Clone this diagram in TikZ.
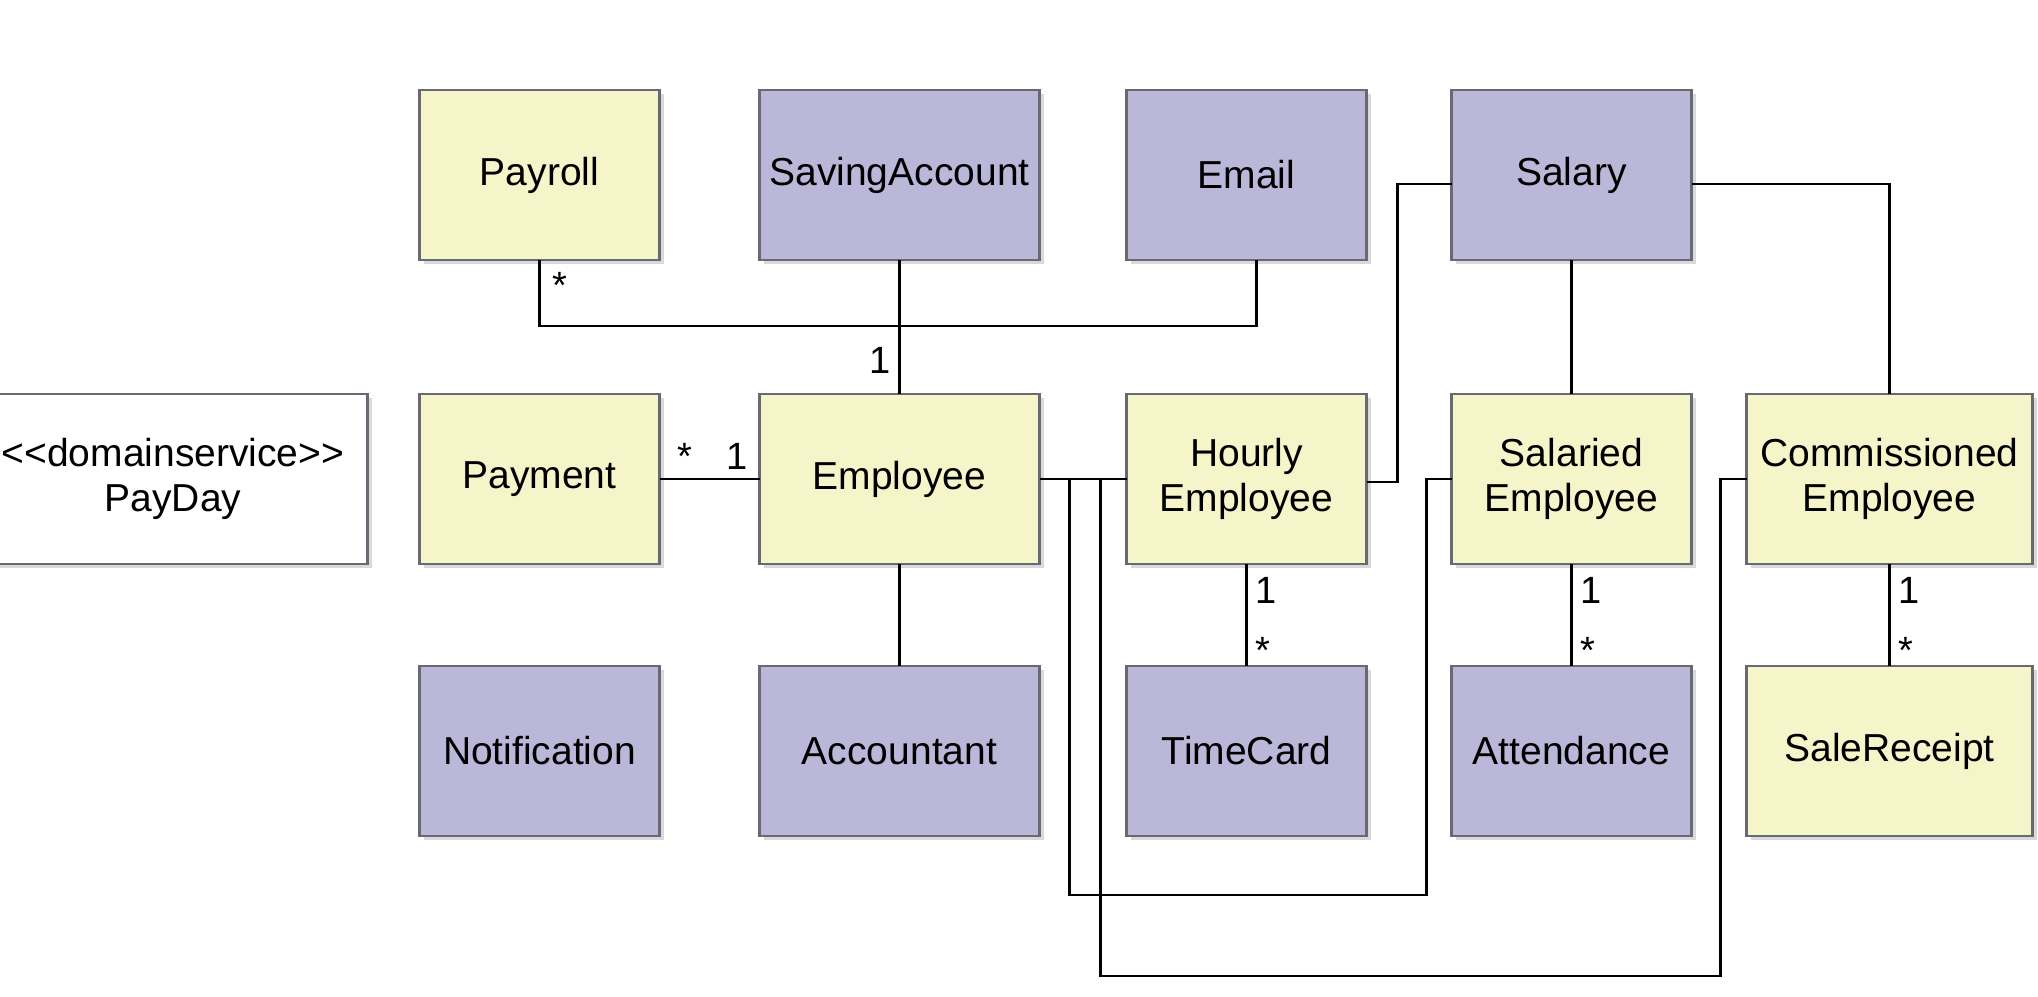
\documentclass[tikz,border=0pt]{standalone}
\usepackage{fontspec}
\usepackage{tikz}
\usetikzlibrary{positioning,shadows}
\newfontfamily\umlfont{Liberation Sans}
\definecolor{entyellow}{RGB}{245,245,201}
\definecolor{valpurple}{RGB}{186,183,216}
\definecolor{clsborder}{RGB}{105,105,115}

\begin{document}
\begin{tikzpicture}[x=1pt,y=1pt,node distance=51pt and 43pt]
\tikzstyle{cls}=[draw=clsborder,line width=1.2pt,minimum width=120pt,minimum height=85pt,inner sep=0pt,outer sep=0pt,align=center,font=\umlfont\fontsize{19.5}{22.75}\selectfont,drop shadow={shadow xshift=2pt,shadow yshift=-2pt,opacity=0.3}]
\tikzstyle{entity}=[cls,fill=entyellow]
\tikzstyle{value}=[cls,fill=valpurple]
\tikzstyle{service}=[cls,fill=white,minimum width=194.5pt]
\tikzstyle{assoc}=[line width=1.2pt,black]
\tikzstyle{mult}=[font=\umlfont\fontsize{19}{21}\selectfont,inner sep=4pt]
\useasboundingbox (0,0) rectangle (1019,-498);
% middle row
\node[entity,minimum width=140pt] (employee) at (449.75,-239.5) {Employee};
\node[entity,left=50pt of employee] (payment) {Payment};
\node[service,left=26pt of payment] (payday) {<<domainservice>>\\PayDay};
\node[entity,right=43.5pt of employee] (hourly) {Hourly\\Employee};
\node[entity,right=42.5pt of hourly] (salaried) {Salaried\\Employee};
\node[entity,right=27.5pt of salaried,minimum width=143pt] (commissioned) {Commissioned\\Employee};
% top row
\node[entity,above=67pt of payment] (payroll) {Payroll};
\node[value,above=67pt of employee,minimum width=140pt] (saving) {SavingAccount};
\node[value,above=67pt of hourly] (email) {Email};
\node[value,above=67pt of salaried] (salary) {Salary};
% bottom row
\node[value,below=51pt of payment] (notification) {Notification};
\node[value,below=51pt of employee,minimum width=140pt] (accountant) {Accountant};
\node[value,below=51pt of hourly] (timecard) {TimeCard};
\node[value,below=51pt of salaried] (attendance) {Attendance};
\node[entity,below=51pt of commissioned,minimum width=143pt] (salereceipt) {SaleReceipt};
% associations
\draw[assoc] (payroll.south) -- node[mult,pos=0.38,right,inner sep=6pt]{*} ++(0,-33) -| ([xshift=5pt]email.south);
\draw[assoc] (saving) -- node[mult,pos=0.75,left]{1} (employee);
\draw[assoc] (payment) -- node[mult,pos=0.25,above]{*} node[mult,pos=0.78,above]{1} (employee);
\draw[assoc] (employee) -- (accountant);
\draw[assoc] (employee) -- (hourly);
\draw[assoc] ([xshift=15pt]employee.east) -- ++(0,-208) -| ([xshift=-12.5pt]salaried.west) -- (salaried.west);
\draw[assoc] ([xshift=30.5pt]employee.east) -- ++(0,-248.5) -| ([xshift=-13pt]commissioned.west) -- (commissioned.west);
\draw[assoc] ([yshift=-1.5pt]hourly.east) -- ++(15.5,0) |- ([yshift=-4.5pt]salary.west);
\draw[assoc] (salary) -- (salaried);
\draw[assoc] ([yshift=-4.5pt]salary.east) -| (commissioned.north);
\draw[assoc] (hourly) -- node[mult,pos=0.26,right]{1} node[mult,pos=0.85,right]{*} (timecard);
\draw[assoc] (salaried) -- node[mult,pos=0.26,right]{1} node[mult,pos=0.85,right]{*} (attendance);
\draw[assoc] (commissioned) -- node[mult,pos=0.26,right]{1} node[mult,pos=0.85,right]{*} (salereceipt);
\end{tikzpicture}
\end{document}
